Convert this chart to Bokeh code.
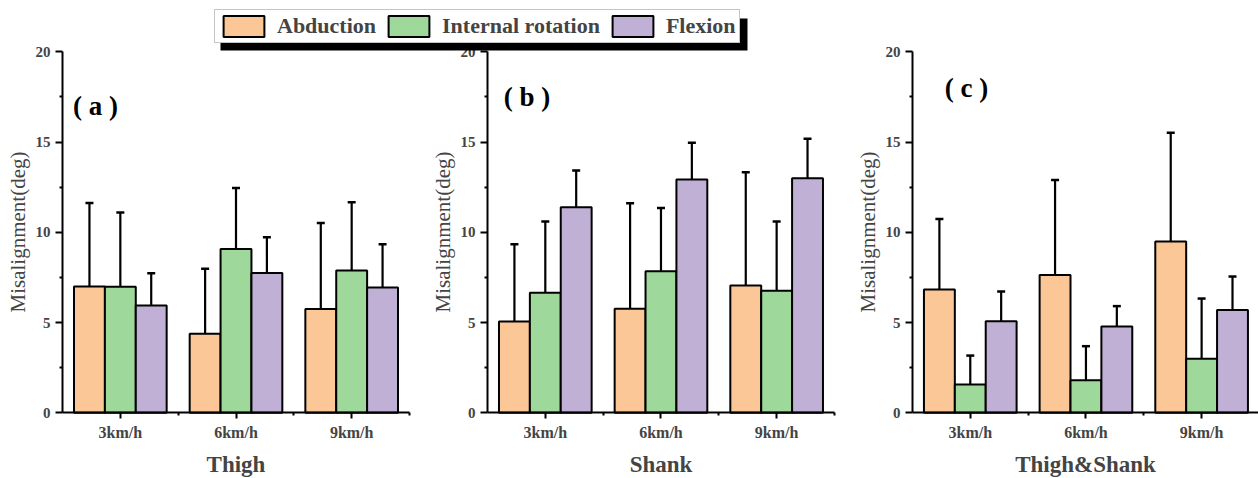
from bokeh.plotting import figure
from bokeh.models import (Range1d, LinearAxis, FixedTicker, ColumnDataSource, Whisker,
                          TeeHead, Legend, LegendItem, BoxAnnotation, Label)
from bokeh.embed import file_html
from bokeh.resources import INLINE

# ---------------- data ----------------
speeds = ["3km/h", "6km/h", "9km/h"]
series = ["Abduction", "Internal rotation", "Flexion"]
panel_titles = ["Thigh", "Shank", "Thigh&Shank"]
panel_tags = ["( a )", "( b )", "( c )"]

# mean values (rows: Abduction, Internal rotation, Flexion; cols: speeds)
thigh_mean = [[7.00, 4.38, 5.75], [6.98, 9.07, 7.88], [5.94, 7.74, 6.94]]
thigh_sd = [[4.63, 3.60, 4.77], [4.12, 3.39, 3.79], [1.79, 1.98, 2.40]]
shank_mean = [[5.06, 5.76, 7.05], [6.65, 7.84, 6.76], [11.39, 12.92, 13.00]]
shank_sd = [[4.28, 5.85, 6.28], [3.95, 3.50, 3.84], [2.03, 2.04, 2.18]]
both_mean = [[6.83, 7.64, 9.49], [1.57, 1.81, 2.99], [5.07, 4.78, 5.69]]
both_sd = [[3.90, 5.26, 6.02], [1.60, 1.88, 3.34], [1.65, 1.13, 1.86]]

y_ticks = [0, 5, 10, 15, 20]
y_minor = [2.5, 7.5, 12.5, 17.5]

means = [thigh_mean, shank_mean, both_mean]
sds = [thigh_sd, shank_sd, both_sd]

colors = ["#FBC797", "#9ED89B", "#C1B0D6"]

# ---------------- layout constants ----------------
W, H = 1258, 478
PPU = 115.67          # pixels per category unit
AX0 = 62              # pixel of first y axis
STRIDE = 3.674        # panel stride in category units
Y0PX, PPY = 412.3, 18.05
BAR_W = 0.267
FONT = "Liberation Serif"

p = figure(width=W, height=H,
           x_range=Range1d(-AX0 / PPU, (W - AX0) / PPU),
           y_range=Range1d(-(H - Y0PX) / PPY, Y0PX / PPY),
           output_backend="svg", toolbar_location=None,
           x_axis_type=None, y_axis_type=None, min_border=0)
p.outline_line_color = None
p.background_fill_color = "white"
p.border_fill_color = "white"

tag_dx = [0.09, 0.14, 0.28]
tag_y = [17.0, 17.5, 18.0]

first_renderers = []
for i in range(3):
    origin = round(i * STRIDE, 4)
    centers = [round(origin + 0.5 + k, 4) for k in range(3)]
    for j in range(3):
        xs = [c + (j - 1) * BAR_W for c in centers]
        m = means[i][j]
        up = [a + b for a, b in zip(m, sds[i][j])]
        src = ColumnDataSource(dict(x=xs, top=m, upper=up, lower=m))
        r = p.vbar(x="x", top="top", width=BAR_W, source=src,
                   fill_color=colors[j], line_color="black", line_width=2)
        if i == 0:
            first_renderers.append(r)
        wh = Whisker(base="x", upper="upper", lower="lower", source=src,
                     dimension="height", line_width=2.2, line_color="black",
                     upper_head=TeeHead(size=8, line_width=2.5, line_color="black"),
                     lower_head=None)
        p.add_layout(wh)

    ya = LinearAxis(fixed_location=origin, bounds=(0, 20),
                    ticker=FixedTicker(ticks=y_ticks, minor_ticks=y_minor),
                    axis_label="Misalignment(deg)")
    ya.axis_line_width = 2
    ya.major_tick_line_width = 2
    ya.minor_tick_line_width = 2
    ya.major_tick_out = 7
    ya.major_tick_in = 0
    ya.minor_tick_out = 3
    ya.minor_tick_in = 0
    ya.major_label_text_font = FONT
    ya.major_label_text_font_style = "bold"
    ya.major_label_text_font_size = "15px"
    ya.major_label_standoff = 5
    ya.axis_label_text_font = FONT
    ya.axis_label_text_font_style = "normal"
    ya.axis_label_text_font_size = "21px"
    ya.axis_label_standoff = 3
    p.add_layout(ya, "left")

    xa = LinearAxis(fixed_location=0, bounds=(origin, origin + 3),
                    ticker=FixedTicker(ticks=centers,
                                       minor_ticks=[round(origin + k, 4) for k in (1, 2, 3)]),
                    major_label_overrides={c: s for c, s in zip(centers, speeds)},
                    axis_label=panel_titles[i])
    xa.axis_line_width = 2
    xa.major_tick_line_width = 2
    xa.minor_tick_line_width = 2
    xa.major_tick_out = 6
    xa.major_tick_in = 0
    xa.minor_tick_out = 3
    xa.minor_tick_in = 0
    xa.major_label_text_font = FONT
    xa.major_label_text_font_style = "bold"
    xa.major_label_text_font_size = "16px"
    xa.major_label_standoff = 5
    xa.axis_label_text_font = FONT
    xa.axis_label_text_font_style = "bold"
    xa.axis_label_text_font_size = "23px"
    xa.axis_label_standoff = 8
    p.add_layout(xa, "below")

    p.add_layout(Label(x=origin + tag_dx[i], y=tag_y[i], text=panel_tags[i],
                       text_font=FONT, text_font_style="bold", text_font_size="27px",
                       text_baseline="middle", text_color="black"))

# legend shadow + legend
shadow = BoxAnnotation(left=220, right=747, top=H - 18, bottom=H - 50,
                       left_units="screen", right_units="screen",
                       top_units="screen", bottom_units="screen",
                       fill_color="black", fill_alpha=1, line_color=None)
p.add_layout(shadow)

legend = Legend(items=[LegendItem(label=s, renderers=[r])
                       for s, r in zip(series, first_renderers)],
                orientation="horizontal", location=(214, H - 43),
                glyph_width=51, glyph_height=26, label_standoff=8, spacing=7,
                padding=3, margin=0, border_line_color="#8c8c8c",
                border_line_width=1, background_fill_color="white",
                background_fill_alpha=1,
                label_text_font=FONT, label_text_font_style="bold",
                label_text_font_size="22px")
p.add_layout(legend, "center")

open("out.html", "w").write(file_html(p, INLINE))
